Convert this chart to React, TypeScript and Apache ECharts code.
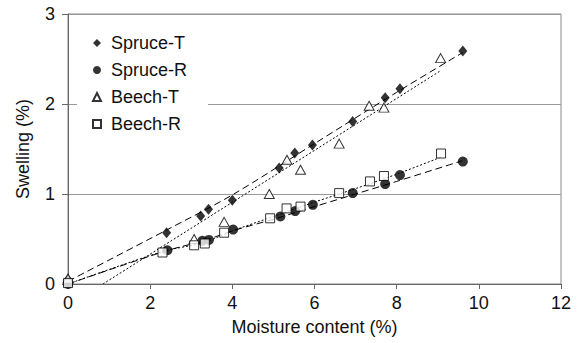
import React, { useEffect, useRef } from "react";
import * as echarts from "echarts";

const spruceT: number[][] = [
  [0, 0.05], [2.4, 0.57], [3.23, 0.755], [3.42, 0.83], [4.0, 0.93], [5.14, 1.29],
  [5.52, 1.455], [5.95, 1.545], [6.93, 1.805], [7.72, 2.07], [8.08, 2.17], [9.61, 2.59],
];
const spruceR: number[][] = [
  [0, 0], [2.42, 0.375], [3.27, 0.48], [3.43, 0.49], [4.02, 0.605], [5.17, 0.75],
  [5.53, 0.81], [5.96, 0.88], [6.93, 1.01], [7.72, 1.11], [8.08, 1.21], [9.61, 1.36],
];
const beechT: number[][] = [
  [0, 0.06], [3.07, 0.5], [3.8, 0.69], [4.9, 1.0], [5.33, 1.38], [5.66, 1.27],
  [6.6, 1.56], [7.33, 1.98], [7.69, 1.96], [9.07, 2.51],
];
const beechR: number[][] = [
  [0, 0.01], [2.3, 0.35], [3.07, 0.43], [3.33, 0.45], [3.8, 0.57], [4.92, 0.73],
  [5.32, 0.84], [5.66, 0.86], [6.6, 1.01], [7.35, 1.14], [7.69, 1.2], [9.08, 1.45],
];

// trend lines
const spruceTFit: number[][] = [[0, 0.03], [2.4, 0.6], [4, 0.99], [6, 1.56], [8, 2.13], [9.6, 2.57]];
const spruceRFit: number[][] = [[0, 0], [2.4, 0.37], [3.3, 0.48], [4, 0.59], [5, 0.72], [6, 0.86], [7, 1.0], [8, 1.14], [9.6, 1.37]];
const beechTFit: number[][] = [[0.85, 0], [9.07, 2.37]];
const beechRFit: number[][] = [[0, 0], [2.3, 0.36], [3.3, 0.46], [4, 0.59], [5, 0.75], [6, 0.91], [7, 1.06], [8, 1.22], [9.08, 1.41]];

const names = ["Spruce-T", "Spruce-R", "Beech-T", "Beech-R"];
const xTicks = { min: 0, max: 12, interval: 2 };
const yTicks = { min: 0, max: 3, interval: 1 };

const FONT = "Liberation Sans, Arial, sans-serif";

export default function App() {
  const ref = useRef<HTMLDivElement>(null);
  useEffect(() => {
    document.body.style.margin = "0";
    if (!ref.current) return;
    const chart = echarts.init(ref.current, undefined, { renderer: "svg" });
    const filled = { color: "#000" };
    const hollow = { color: "#fff", borderColor: "#000", borderWidth: 1 };
    const fitLine = (data: number[][], type: any) => ({
      type: "line",
      data,
      showSymbol: false,
      symbol: "none",
      smooth: 0.3,
      silent: true,
      lineStyle: { color: "#000", width: 1, type },
      z: 1,
    });
    chart.setOption({
      animation: false,
      textStyle: { fontFamily: FONT },
      grid: {
        left: 68, right: 17, top: 14, bottom: 59,
        show: true, borderColor: "#888", borderWidth: 1,
      },
      xAxis: {
        type: "value",
        ...xTicks,
        name: "Moisture content (%)",
        nameLocation: "middle",
        nameGap: 34,
        nameTextStyle: { fontSize: 18, color: "#111", fontFamily: FONT },
        axisLine: { lineStyle: { color: "#666", width: 1 } },
        axisTick: { show: true, inside: false, length: 5, lineStyle: { color: "#666" } },
        axisLabel: { fontSize: 18, color: "#111", margin: 10, fontFamily: FONT },
        splitLine: { show: false },
      },
      yAxis: {
        type: "value",
        ...yTicks,
        name: "Swelling (%)",
        nameLocation: "middle",
        nameGap: 36,
        nameTextStyle: { fontSize: 18, color: "#111", fontFamily: FONT },
        axisLine: { show: true, lineStyle: { color: "#666", width: 1 } },
        axisTick: { show: true, inside: false, length: 6, lineStyle: { color: "#666" } },
        axisLabel: { fontSize: 18, color: "#111", margin: 13, fontFamily: FONT },
        splitLine: { show: true, lineStyle: { color: "#999", width: 1 } },
      },
      legend: {
        orient: "vertical",
        left: 77,
        top: 28,
        padding: [6, 21, 7, 15],
        backgroundColor: "#fff",
        itemWidth: 8,
        itemHeight: 8,
        itemGap: 9,
        textStyle: { fontSize: 18, color: "#111", fontFamily: FONT, padding: [0, 0, 0, 5], lineHeight: 18 },
        data: [
          { name: names[0], icon: "diamond" },
          { name: names[1], icon: "circle" },
          { name: names[2], icon: "triangle" },
          { name: names[3], icon: "rect" },
        ],
        z: 5,
      },
      series: [
        fitLine(spruceTFit, [7, 4]),
        fitLine(spruceRFit, [7, 4]),
        fitLine(beechTFit, [2, 2]),
        fitLine(beechRFit, [2, 2]),
        { type: "scatter", name: names[0], data: spruceT, symbol: "diamond", symbolSize: [9, 11], itemStyle: filled, z: 3 },
        { type: "scatter", name: names[1], data: spruceR, symbol: "circle", symbolSize: 10, itemStyle: filled, z: 3 },
        { type: "scatter", name: names[2], data: beechT, symbol: "triangle", symbolSize: [10, 9], itemStyle: hollow, z: 3 },
        { type: "scatter", name: names[3], data: beechR, symbol: "rect", symbolSize: 9, itemStyle: hollow, z: 3 },
      ],
    });
    return () => chart.dispose();
  }, []);
  return <div ref={ref} style={{ width: 578, height: 343 }} />;
}
